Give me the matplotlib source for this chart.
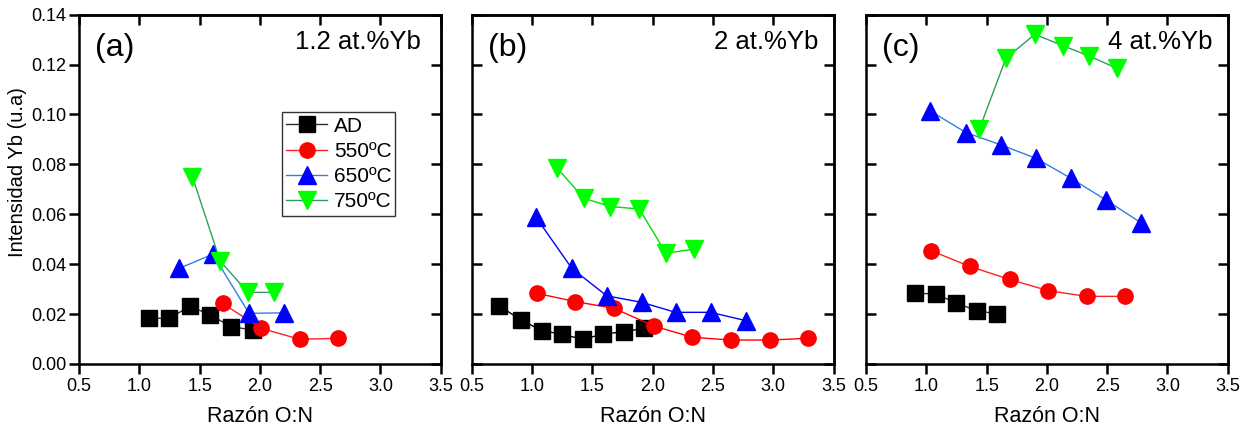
import numpy as np
import matplotlib
matplotlib.use("Agg")
import matplotlib.pyplot as plt

plt.rcParams['font.family'] = ['Liberation Sans', 'DejaVu Sans']

# datos: razon O:N vs intensidad Yb
series = ["AD", "550ºC", "650ºC", "750ºC"]
paneles = ["(a)", "(b)", "(c)"]
titulos = ["1.2 at.%Yb", "2 at.%Yb", "4 at.%Yb"]

# (a) 1.2 at.%Yb
a_ad_x = [1.08, 1.25, 1.42, 1.59, 1.76, 1.94]
a_ad_y = [0.0183, 0.0183, 0.0232, 0.0196, 0.0150, 0.0136]
a_550_x = [1.69, 2.01, 2.33, 2.65]
a_550_y = [0.0243, 0.0143, 0.0099, 0.0103]
a_650_x = [1.33, 1.61, 1.91, 2.20]
a_650_y = [0.0383, 0.0440, 0.0203, 0.0205]
a_750_x = [1.44, 1.67, 1.90, 2.12]
a_750_y = [0.0751, 0.0413, 0.0287, 0.0287]

# (b) 2 at.%Yb
b_ad_x = [0.73, 0.91, 1.08, 1.25, 1.42, 1.59, 1.76, 1.93]
b_ad_y = [0.0232, 0.0176, 0.0134, 0.0119, 0.0099, 0.0120, 0.0129, 0.0143]
b_550_x = [1.04, 1.36, 1.68, 2.01, 2.33, 2.65, 2.97, 3.29]
b_550_y = [0.0283, 0.0250, 0.0223, 0.0152, 0.0107, 0.0096, 0.0096, 0.0103]
b_650_x = [1.03, 1.33, 1.62, 1.91, 2.19, 2.48, 2.77]
b_650_y = [0.0590, 0.0383, 0.0273, 0.0247, 0.0207, 0.0207, 0.0174]
b_750_x = [1.21, 1.43, 1.65, 1.89, 2.11, 2.34]
b_750_y = [0.0784, 0.0664, 0.0631, 0.0621, 0.0444, 0.0460]

# (c) 4 at.%Yb
c_ad_x = [0.91, 1.08, 1.25, 1.42, 1.59]
c_ad_y = [0.0283, 0.0281, 0.0243, 0.0214, 0.0200]
c_550_x = [1.04, 1.36, 1.69, 2.01, 2.33, 2.65]
c_550_y = [0.0454, 0.0391, 0.0339, 0.0294, 0.0271, 0.0271]
c_650_x = [1.03, 1.33, 1.62, 1.91, 2.20, 2.49, 2.78]
c_650_y = [0.1015, 0.0927, 0.0878, 0.0824, 0.0744, 0.0657, 0.0566]
c_750_x = [1.44, 1.66, 1.90, 2.13, 2.35, 2.58]
c_750_y = [0.0941, 0.1225, 0.1321, 0.1276, 0.1234, 0.1185]

datos = [
    [(a_ad_x, a_ad_y), (a_550_x, a_550_y), (a_650_x, a_650_y), (a_750_x, a_750_y)],
    [(b_ad_x, b_ad_y), (b_550_x, b_550_y), (b_650_x, b_650_y), (b_750_x, b_750_y)],
    [(c_ad_x, c_ad_y), (c_550_x, c_550_y), (c_650_x, c_650_y), (c_750_x, c_750_y)],
]

xticks = np.arange(0.5, 3.51, 0.5)
yticks = np.arange(0.0, 0.141, 0.02)

marcadores = ['s', 'o', '^', 'v']
tam_mk = [11, 11, 12.5, 12.5]
colores_mk = ['black', '#ff0000', '#0000ff', '#00ff00']
# colores de las lineas (el panel b usa azul y verde puros)
lineas_ac = ['#303030', '#ff2020', '#2f7fe8', '#2aa060']
lineas_b = ['#000000', '#ff0000', '#0000ff', '#00dd00']

fig = plt.figure(figsize=(12.54, 4.30), dpi=100)
izq = [0.063, 0.3762, 0.6906]
ancho = 0.2885
abajo = 0.1535
alto = 0.8125

titulo_x = [0.944, 0.959, 0.957]

for i in range(3):
    ax = fig.add_axes([izq[i], abajo, ancho, alto])
    cl = lineas_b if i == 1 else lineas_ac
    for j in range(4):
        x, y = datos[i][j]
        ax.plot(x, y, color=cl[j], lw=1.0, marker=marcadores[j], ms=tam_mk[j],
                mfc=colores_mk[j], mec=colores_mk[j], label=series[j])
    ax.set_xlim(0.5, 3.5)
    ax.set_ylim(0.0, 0.14)
    ax.set_xticks(xticks)
    ax.set_yticks(yticks)
    ax.xaxis.set_major_formatter(plt.FormatStrFormatter('%.1f'))
    ax.yaxis.set_major_formatter(plt.FormatStrFormatter('%.2f'))
    # abajo hacia fuera, arriba y derecha hacia dentro (estilo Origin)
    ax.tick_params(axis='x', direction='out', length=7, width=1.8,
                   labelsize=13, pad=3)
    ax.tick_params(axis='y', direction='out' if i == 0 else 'in', length=7,
                   width=1.8, labelsize=13, pad=2)
    sx = ax.secondary_xaxis('top')
    sx.set_xticks(xticks)
    sx.tick_params(direction='in', length=7, width=1.8, labeltop=False)
    sy = ax.secondary_yaxis('right')
    sy.set_yticks(yticks)
    sy.tick_params(direction='in', length=7, width=1.8, labelright=False)
    for s in list(ax.spines.values()) + [sx.spines['top'], sy.spines['right']]:
        s.set_linewidth(1.8)
    if i > 0:
        ax.set_yticklabels([])
    else:
        ax.set_ylabel("Intensidad Yb (u.a)", fontsize=14.5)
        ax.yaxis.set_label_coords(-0.145, 0.55)
        leg = ax.legend(loc='upper left', bbox_to_anchor=(0.56, 0.72), fontsize=15,
                        frameon=True, fancybox=False, edgecolor='black',
                        handlelength=2.0, handletextpad=0.3, borderpad=0.2,
                        borderaxespad=0, labelspacing=0.3)
        leg.get_frame().set_linewidth(1.0)
    ax.set_xlabel("Razón O:N", fontsize=15.5, labelpad=8)
    ax.text(0.045, 0.905, paneles[i], transform=ax.transAxes, fontsize=23,
            ha='left', va='center')
    ax.text(titulo_x[i], 0.923, titulos[i], transform=ax.transAxes, fontsize=18.5,
            ha='right', va='center')

fig.savefig("out.png", dpi=100)
